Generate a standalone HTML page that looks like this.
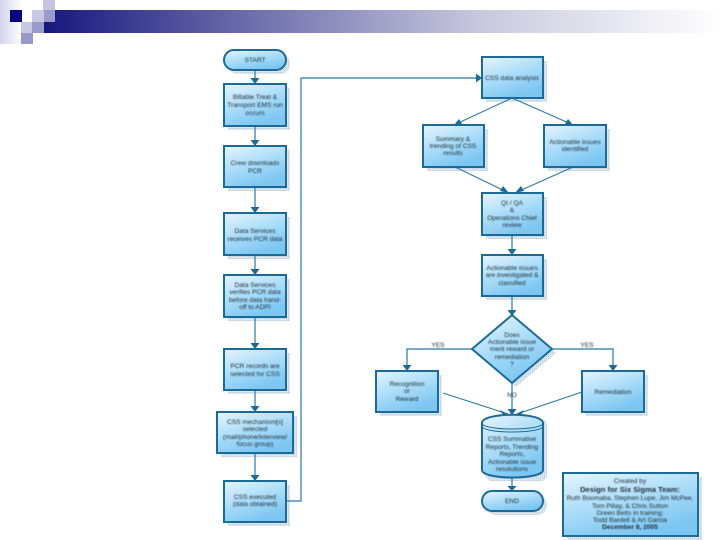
<!DOCTYPE html>
<html><head><meta charset="utf-8"><title>CSS flowchart</title>
<style>
html,body{margin:0;padding:0;background:#fff;width:720px;height:540px;overflow:hidden}
svg{display:block}
text{font-family:"Liberation Sans",sans-serif;font-size:6.6px;fill:#22323c;text-anchor:middle}
.s{fill:url(#sh);stroke:none}
.b{fill:url(#bx);stroke:#1c6a98;stroke-width:2}
.l{fill:none;stroke:#2a78a8;stroke-width:1.2}
.t{fill:none;stroke:#2a78a8;stroke-width:1}
.a{fill:#1c6a98}
</style></head><body>
<svg width="720" height="540" viewBox="0 0 720 540" xmlns="http://www.w3.org/2000/svg">
<defs>
<linearGradient id="bx" x1="0" y1="0" x2="0.5" y2="1"><stop offset="0" stop-color="#e6f5fd"/><stop offset="0.55" stop-color="#a9dcf8"/><stop offset="1" stop-color="#7cc6f2"/></linearGradient>
<linearGradient id="bar" x1="0" y1="0" x2="1" y2="0"><stop offset="0" stop-color="#17177f"/><stop offset="0.3" stop-color="#6c6cab"/><stop offset="0.65" stop-color="#c9c9de"/><stop offset="1" stop-color="#ffffff"/></linearGradient>
<linearGradient id="left" x1="0" y1="0" x2="1" y2="0"><stop offset="0" stop-color="#d4d4ec"/><stop offset="1" stop-color="#ffffff"/></linearGradient>
<pattern id="sh" width="2" height="2" patternUnits="userSpaceOnUse"><rect width="2" height="2" fill="#dbe6ee"/><rect width="1" height="1" fill="#b9cddb"/></pattern>
<filter id="soft" x="-5%" y="-5%" width="110%" height="110%"><feGaussianBlur stdDeviation="0.35"/></filter>
<filter id="softer" x="-5%" y="-5%" width="110%" height="110%"><feGaussianBlur stdDeviation="0.42"/></filter>
</defs>

<!-- Slide decoration -->
<rect x="0" y="0" width="22" height="44" fill="url(#left)"/>
<rect x="44" y="10" width="676" height="23" fill="url(#bar)"/>
<rect x="10" y="10" width="12" height="12" fill="#000080"/>
<rect x="32" y="10" width="12" height="12" fill="#c8c8e6"/>
<rect x="43" y="0" width="12" height="10" fill="#c6c6e4"/>
<rect x="44" y="10" width="11" height="12" fill="#9a9acc"/>
<rect x="21" y="22" width="11" height="11" fill="#c8c8e6"/>
<rect x="32" y="22" width="12" height="11" fill="#9a9acc"/>
<rect x="21" y="33" width="12" height="11" fill="#9898cc"/>
<rect x="22" y="10" width="10" height="12" fill="#fff"/>

<g filter="url(#soft)">
<!-- Shadows -->
<rect class="s" x="228" y="54" width="62" height="20" rx="10"/>
<rect class="s" x="228" y="88" width="62" height="42"/>
<rect class="s" x="228" y="150" width="62" height="41"/>
<rect class="s" x="228" y="217" width="62" height="42"/>
<rect class="s" x="228" y="279" width="62" height="42"/>
<rect class="s" x="228" y="353" width="62" height="41"/>
<rect class="s" x="221" y="416" width="76" height="41"/>
<rect class="s" x="228" y="485" width="62" height="41"/>
<rect class="s" x="486" y="61" width="61" height="41"/>
<rect class="s" x="427" y="129" width="61" height="42"/>
<rect class="s" x="548" y="129" width="62" height="42"/>
<rect class="s" x="486" y="197" width="61" height="42"/>
<rect class="s" x="486" y="259" width="61" height="41"/>
<polygon class="s" points="516,319 556,353 516,387 476,353"/>
<rect class="s" x="380" y="375" width="62" height="41"/>
<rect class="s" x="586" y="375" width="62" height="41"/>
<rect class="s" x="486" y="419" width="61" height="62" rx="6"/>
<rect class="s" x="486" y="495" width="61" height="20" rx="10"/>
<rect class="s" x="567" y="477" width="135" height="63"/>

<!-- Connectors -->
<path class="l" d="M255 70V79M255 126V141M255 187V208M255 255V270M255 317V344M255 390V407M255 453V476"/>
<path class="l" d="M286 501H301V78H478"/>
<path class="t" d="M512 98L456 124M512 98L571 124M455 167L507 192M573 167L517 192"/>
<path class="l" d="M512 235V250M512 296V311"/>
<path class="l" d="M472 349H407V366M552 349H613V366M512 383V412M512 477V487"/>
<path class="t" d="M443 393L508 414M582 392L517 414"/>

<!-- Arrowheads -->
<polygon class="a" points="250.500,78 259.500,78 255,84"/>
<polygon class="a" points="250.500,140 259.500,140 255,146"/>
<polygon class="a" points="250.500,207 259.500,207 255,213"/>
<polygon class="a" points="250.500,269 259.500,269 255,275"/>
<polygon class="a" points="250.500,343 259.500,343 255,349"/>
<polygon class="a" points="250.500,406 259.500,406 255,412"/>
<polygon class="a" points="250.500,475 259.500,475 255,481"/>
<polygon class="a" points="476,73.500 476,82.500 482,78"/>
<polygon class="a" points="459,119 462,124 454,125"/>
<polygon class="a" points="568,119 565,124 573,125"/>
<polygon class="a" points="503,186 500,191 509,193"/>
<polygon class="a" points="521,186 524,191 515,193"/>
<polygon class="a" points="507.500,249 516.500,249 512,255"/>
<polygon class="a" points="507.500,310 516.500,310 512,316"/>
<polygon class="a" points="402.500,365 411.500,365 407,371"/>
<polygon class="a" points="608.500,365 617.500,365 613,371"/>
<polygon class="a" points="507.500,409 516.500,409 512,415"/>
<polygon class="a" points="500,410 503,415 510,415"/>
<polygon class="a" points="524,410 521,415 514,415"/>
<polygon class="a" points="507.500,486 516.500,486 512,491"/>

<!-- Shapes -->
<rect class="b" x="224" y="50" width="62" height="20" rx="10"/>
<rect class="b" x="224" y="84" width="62" height="42"/>
<rect class="b" x="224" y="146" width="62" height="41"/>
<rect class="b" x="224" y="213" width="62" height="42"/>
<rect class="b" x="224" y="275" width="62" height="42"/>
<rect class="b" x="224" y="349" width="62" height="41"/>
<rect class="b" x="217" y="412" width="76" height="41"/>
<rect class="b" x="224" y="481" width="62" height="41"/>
<rect class="b" x="482" y="57" width="61" height="41"/>
<rect class="b" x="423" y="125" width="61" height="42"/>
<rect class="b" x="544" y="125" width="62" height="42"/>
<rect class="b" x="482" y="193" width="61" height="42"/>
<rect class="b" x="482" y="255" width="61" height="41"/>
<polygon class="b" points="512,315 552,349 512,383 472,349"/>
<rect class="b" x="376" y="371" width="62" height="41"/>
<rect class="b" x="582" y="371" width="62" height="41"/>
<path class="b" d="M482 423C482 412 543 412 543 423V470C543 480 482 480 482 470Z"/>
<path class="t" d="M482 423C482 431 543 431 543 423M482 426C482 434 543 434 543 426" style="stroke:#1c6a98"/>
<rect class="b" x="482" y="491" width="61" height="20" rx="10"/>
<rect class="b" x="563" y="473" width="135" height="63"/>
</g>

<!-- Labels -->
<g filter="url(#softer)">
<text x="255" y="62">START</text>
<text x="255" y="99">Billable Treat &amp;</text>
<text x="255" y="107">Transport EMS run</text>
<text x="255" y="115">occurs</text>
<text x="255" y="165">Crew downloads</text>
<text x="255" y="173">PCR</text>
<text x="255" y="233">Data Services</text>
<text x="255" y="241">receives PCR data</text>
<text x="255" y="287">Data Services</text>
<text x="255" y="294">verifies PCR data</text>
<text x="255" y="302">before data hand-</text>
<text x="255" y="309">off to ADPI</text>
<text x="255" y="368">PCR records are</text>
<text x="255" y="376">selected for CSS</text>
<text x="255" y="424">CSS mechanism[s]</text>
<text x="255" y="431">selected</text>
<text x="255" y="439">(mail/phone/interview/</text>
<text x="255" y="446">focus group)</text>
<text x="255" y="499">CSS executed</text>
<text x="255" y="506">(data obtained)</text>
<text x="512" y="80">CSS data analysis</text>
<text x="453" y="141">Summary &amp;</text>
<text x="453" y="148">trending of CSS</text>
<text x="453" y="155">results</text>
<text x="575" y="144">Actionable issues</text>
<text x="575" y="151">identified</text>
<text x="512" y="205">QI / QA</text>
<text x="512" y="212">&amp;</text>
<text x="512" y="220">Operations Chief</text>
<text x="512" y="227">review</text>
<text x="512" y="270">Actionable issues</text>
<text x="512" y="277">are investigated &amp;</text>
<text x="512" y="285">classified</text>
<text x="512" y="337">Does</text>
<text x="512" y="344">Actionable issue</text>
<text x="512" y="351">merit reward or</text>
<text x="512" y="359">remediation</text>
<text x="512" y="366">?</text>
<text x="438" y="347">YES</text>
<text x="587" y="347">YES</text>
<text x="512" y="397">NO</text>
<text x="407" y="386">Recognition</text>
<text x="407" y="393">or</text>
<text x="407" y="401">Reward</text>
<text x="613" y="394">Remediation</text>
<text x="512" y="441">CSS Summative</text>
<text x="512" y="449">Reports, Trending</text>
<text x="512" y="456">Reports,</text>
<text x="512" y="464">Actionable issue</text>
<text x="512" y="471">resolutions</text>
<text x="512" y="503">END</text>
<text x="630" y="483">Created by</text>
<text x="630" y="492" style="font-size:7.6px;font-weight:bold">Design for Six Sigma Team:</text>
<text x="630" y="500">Ruth Boomaba, Stephen Lupe, Jim McPee,</text>
<text x="630" y="508">Tom Pillay, &amp; Chris Sutton</text>
<text x="630" y="515">Green Belts in training:</text>
<text x="630" y="522">Todd Bardell &amp; Art Garcia</text>
<text x="630" y="529" style="font-weight:bold">December 8, 2005</text>
</g>
</svg>
</body></html>
